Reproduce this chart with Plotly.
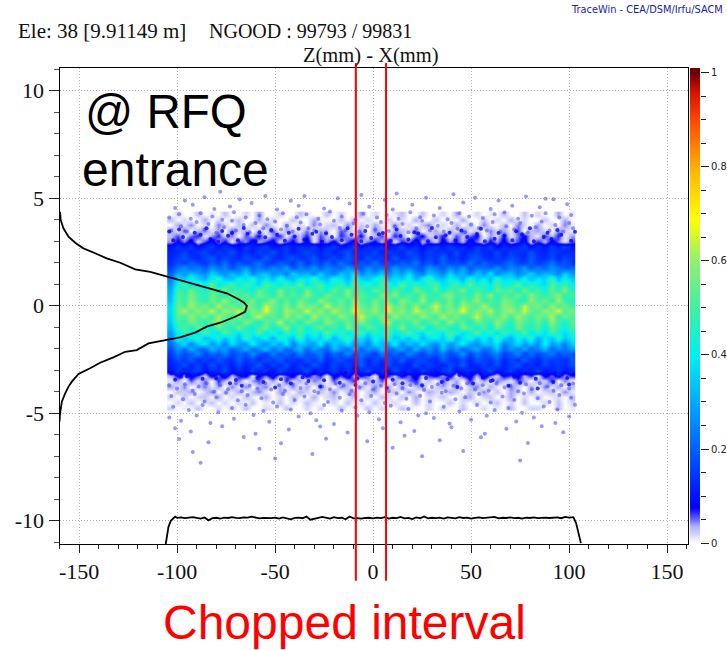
import plotly.graph_objects as go

W, H = 727, 650

# density grid, hundredths of the colour scale (top row first)
density_y = [4.25,4.0,3.75,3.5,3.25,3.0,2.75,2.5,2.25,2.0,1.75,1.5,1.25,1.0,0.75,0.5,0.25,0.0,-0.25,
             -0.5,-0.75,-1.0,-1.25,-1.5,-1.75,-2.0,-2.25,-2.5,-2.75,-3.0,-3.25,-3.5,-3.75,-4.0,-4.25,-4.5,-4.75]
# brightness correction per row, estimated against the picture
row_gain = [1,1,1,1,1,1,1,1,1,1,1.05,1.12,1.15,1.15,1.1,1.05,1,1,1,
            1,1.03,1.08,1.1,1.12,1.15,1.12,1.05,1,1,1,1,1,1,1,1,1,1]
density = [
 [0,2,0,0,3,0,1,0,3,0, 0,2,0,4,0,0,2,0,0,3, 1,0,0,3,0,2,0,0,4,0, 2,0,0,1,3,0,0,3,0,0, 2,0,4,0,0,2,0,1,0,3, 0,0,3,0,2,0,0,4,0,1],
 [3,0,2,0,0,4,0,2,0,1, 3,0,0,4,0,2,0,0,3,0, 0,4,1,0,0,3,0,4,0,2, 0,0,3,0,2,0,4,0,0,3, 0,1,0,4,0,0,3,0,2,0, 4,0,2,0,0,3,0,0,4,0],
 [0,4,1,5,0,2,0,5,2,0, 3,0,3,0,5,1,0,4,0,2, 0,5,0,2,3,0,5,0,3,0, 4,1,0,5,0,2,0,3,5,0, 2,0,4,0,3,0,5,1,0,3, 0,5,2,0,4,0,2,0,5,1],
 [4,1,6,0,3,5,1,4,0,6, 2,4,0,3,1,6,0,4,2,1, 5,0,4,2,0,6,3,1,4,0, 5,2,0,4,3,1,6,0,2,4, 0,4,1,6,1,3,0,5,2,4, 1,6,0,3,4,2,0,5,2,1],
 [3,6,1,5,7,1,4,7,2,5, 0,6,3,8,1,4,7,1,5,3, 7,1,6,3,0,7,4,2,8,1, 3,6,1,7,4,0,5,8,2,3, 7,1,6,3,5,8,0,4,2,7, 1,5,8,3,1,6,3,7,1,4],
 [4,8,5,9,2,6,10,3,8,1, 7,4,10,3,6,9,2,5,8,3, 10,1,7,4,9,2,6,10,2,5, 8,3,9,1,7,5,10,3,6,2, 9,4,7,3,10,5,2,8,4,9, 3,6,10,2,7,3,9,5,1,6],
 [10,14,11,15,9,13,16,10,14,12, 8,15,11,13,16,9,12,15,10,14, 11,16,8,13,15,10,12,16,9,14, 11,15,9,13,16,10,14,8,12,15, 10,16,11,13,9,15,12,16,8,14, 11,13,16,9,14,10,15,12,16,10],
 [11,13,16,12,14,17,11,15,13,18, 12,14,11,16,13,18,12,15,11,14, 17,13,12,16,11,15,18,12,14,13, 17,11,15,13,12,18,14,11,16,13, 15,12,18,11,14,16,13,12,17,11, 15,14,12,18,13,11,16,14,12,13],
 [12,15,18,14,12,16,19,13,17,14, 12,18,15,13,20,14,12,16,18,13, 15,19,12,14,17,13,20,15,12,18, 14,16,12,19,13,15,18,12,16,14, 20,13,15,12,17,19,14,12,16,13, 18,15,12,20,14,13,17,12,16,14],
 [13,18,15,21,17,14,20,16,22,15, 19,14,18,23,16,14,20,17,15,22, 14,19,16,21,15,23,17,14,19,16, 22,15,18,14,20,17,23,15,19,14, 21,16,18,14,23,15,20,17,14,19, 22,16,15,20,14,18,23,16,19,14],
 [15,21,25,19,23,18,26,20,24,17, 22,27,19,23,18,25,21,28,17,23, 20,26,18,24,21,19,27,22,17,25, 20,23,18,27,21,24,19,17,26,22, 18,25,20,28,17,23,21,19,26,18, 24,21,27,18,23,19,25,22,17,20],
 [18,28,24,31,26,22,33,27,23,30, 25,34,22,28,31,24,27,21,33,26, 29,23,32,25,22,30,27,35,23,28, 25,32,22,29,26,34,24,21,31,27, 23,33,26,29,22,31,25,35,23,28, 30,22,26,33,24,29,27,22,32,25],
 [21,33,29,38,31,27,36,40,30,28, 37,32,41,29,35,28,39,31,27,36, 33,42,30,28,38,34,27,40,32,29, 36,41,28,33,30,38,27,35,42,31, 29,37,33,27,40,30,36,28,41,32, 34,29,39,27,35,31,42,28,37,30],
 [24,38,44,34,41,36,47,33,39,45, 35,42,37,32,46,39,34,43,36,48, 33,40,45,35,38,42,32,47,37,41, 34,44,39,33,48,36,42,35,40,46, 32,38,44,34,47,37,41,33,45,36, 39,48,34,42,36,32,46,38,43,35],
 [27,45,40,50,43,38,48,42,52,39, 46,41,37,49,44,39,52,42,47,38, 51,41,45,37,49,43,53,40,46,38, 50,44,39,48,42,37,52,45,40,49, 38,47,43,52,39,46,41,37,50,44, 48,38,51,42,45,39,49,41,53,40],
 [30,50,45,55,48,43,53,47,41,56, 46,51,43,54,48,42,56,45,50,44, 57,47,42,53,48,45,55,43,51,46, 41,54,48,56,44,49,43,54,47,42, 52,56,45,48,43,54,47,57,42,50, 46,53,44,56,48,43,51,55,45,48],
 [33,53,48,59,51,46,56,50,62,47, 54,48,58,45,52,60,47,55,46,57, 50,45,61,53,48,56,47,60,51,46, 57,49,54,44,59,52,47,63,46,53, 48,57,45,56,50,60,47,52,46,58, 54,48,44,60,51,56,47,61,49,45],
 [36,55,50,62,53,58,48,64,52,56, 49,61,54,48,65,55,50,59,47,62, 53,57,49,66,51,56,48,62,55,50, 60,48,64,53,57,49,61,47,54,66, 51,58,48,62,55,50,63,52,48,59, 56,49,65,53,58,48,61,51,55,49],
 [37,56,63,52,60,54,66,50,61,56, 65,51,58,53,68,55,49,62,57,52, 66,54,60,50,64,56,52,67,58,53, 61,49,65,55,60,51,66,57,53,63, 50,60,54,69,52,59,56,64,49,58, 62,53,66,55,51,61,57,67,52,56],
 [36,54,49,60,52,57,47,63,53,50, 59,46,56,65,51,54,48,61,52,58, 45,64,52,55,49,60,53,47,66,54, 50,57,46,62,52,56,49,61,54,48, 64,51,58,47,53,66,50,55,52,60, 48,62,54,49,57,52,63,47,55,51],
 [33,50,45,56,49,43,54,60,46,52, 44,57,50,42,53,48,62,45,52,41, 56,49,44,59,51,46,54,43,58,48, 42,53,61,45,50,47,56,43,49,55, 44,60,48,52,42,54,49,45,58,50, 43,56,51,46,53,44,59,47,42,52],
 [29,43,48,40,52,44,38,50,46,41, 53,42,37,47,51,39,45,55,40,49, 36,44,52,41,47,38,54,43,40,50, 46,37,48,42,55,39,45,51,36,44, 49,41,38,53,46,40,47,37,51,43, 39,52,45,41,48,37,50,44,38,46],
 [26,36,44,39,33,46,38,35,48,40, 34,43,37,49,35,42,33,45,38,47, 36,41,34,50,37,44,35,39,47,33, 42,38,46,34,40,48,36,33,44,39, 35,47,41,34,38,49,36,43,33,45, 37,40,48,35,42,34,46,38,33,41],
 [23,39,31,36,42,29,34,40,30,37, 28,43,33,31,38,27,41,35,30,44, 29,36,32,40,28,37,43,31,34,27, 39,33,42,29,36,30,41,28,35,38, 31,44,27,34,40,30,37,29,43,32, 28,38,33,41,27,35,30,42,31,36],
 [19,27,33,22,30,36,24,29,21,34, 26,23,37,28,22,32,25,35,21,30, 27,24,36,22,31,26,34,23,29,21, 33,28,25,37,22,30,24,35,27,21, 32,23,29,36,25,22,31,28,34,21, 26,33,23,30,22,37,25,28,21,31],
 [16,25,19,28,21,18,30,23,26,18, 22,29,19,24,31,20,27,18,23,29, 19,26,21,18,30,24,20,28,18,25, 22,31,19,23,27,18,29,21,25,19, 30,20,26,18,24,28,19,22,31,18, 25,21,27,19,23,29,18,24,20,26],
 [14,22,16,19,25,15,21,17,24,15, 20,16,26,18,14,23,17,21,15,25, 16,19,23,14,20,17,26,15,22,18, 14,24,16,20,15,25,18,14,21,17, 23,15,19,26,14,22,16,20,24,15, 18,25,14,21,16,19,23,15,20,17],
 [12,18,14,20,13,16,12,19,15,13, 21,14,17,12,18,15,20,13,16,12, 19,14,21,12,16,18,13,15,20,12, 17,14,19,13,21,12,16,18,14,12, 20,15,13,18,12,19,16,14,21,12, 17,13,20,15,12,18,14,16,12,19],
 [11,14,18,12,16,11,19,13,15,11, 17,12,14,20,11,16,13,18,11,15, 12,19,14,11,17,13,16,11,20,12, 15,11,18,13,14,11,19,12,16,13, 11,17,14,20,11,13,16,12,18,11, 15,19,12,14,11,17,13,15,12,18],
 [9,15,11,13,17,9,14,12,18,10, 13,9,16,11,15,9,17,12,10,14, 18,9,13,11,16,10,15,9,12,17, 10,14,9,18,11,13,9,16,12,10, 15,17,9,11,14,9,13,18,10,12, 16,9,14,11,17,9,12,15,10,13],
 [3,8,4,9,6,2,9,5,10,3, 7,9,1,8,5,10,3,6,9,2, 9,4,7,1,9,6,10,3,8,5, 1,9,7,3,9,5,10,2,6,8, 4,9,1,7,9,3,10,5,2,8, 6,9,3,7,1,9,5,10,4,7],
 [1,4,0,6,2,5,0,7,3,1, 5,0,4,6,1,4,0,7,2,4, 0,5,3,0,6,1,4,7,0,4, 2,6,0,4,1,5,7,1,3,0, 6,2,4,0,7,1,4,0,5,3, 1,6,4,0,4,2,7,0,5,1],
 [4,1,5,0,2,5,1,4,0,5, 1,5,0,3,5,0,4,1,5,0, 4,0,5,2,0,5,3,0,4,1, 5,1,4,0,5,0,3,5,0,2, 4,1,5,0,3,5,0,4,1,0, 5,2,0,4,0,5,1,4,0,3],
 [0,3,2,4,0,2,5,0,3,1, 4,0,3,5,1,0,4,2,0,4, 2,0,3,1,5,0,3,4,0,2, 4,0,2,3,0,5,1,0,4,2, 0,4,2,0,3,1,5,0,3,0, 4,2,0,4,0,2,3,0,5,1],
 [2,0,3,0,2,3,0,4,0,2, 0,3,1,0,4,0,2,0,3,1, 0,4,0,2,3,0,1,4,0,2, 0,3,2,0,3,0,4,0,2,1, 3,0,0,2,4,0,2,3,0,1, 4,0,2,0,3,0,1,2,0,3],
 [0,2,0,3,0,1,3,0,2,0, 2,0,3,0,1,0,3,0,2,0, 3,1,0,0,2,0,3,0,2,0, 3,0,1,2,0,0,3,0,2,0, 0,3,0,2,0,2,0,1,3,0, 2,0,3,0,0,2,0,3,0,2],
 [2,0,1,0,3,0,0,2,0,2, 0,3,0,0,2,1,0,3,0,0, 2,0,2,0,0,3,0,1,0,3, 0,2,0,0,3,1,0,0,2,0, 2,0,0,3,0,0,2,0,1,0, 3,0,0,2,2,0,0,3,0,1],
]

# sparse outlying particles
upper_x = [-103,-98,-95,-90,-86,-84,-80,-76,-72,-70,-66,-63,-60,-56,-52,-50,-47,-44,-41,-37,-33,-30,-27,-24,-20,-17,-14,-10,-7,-3,1,4,8,11,15,18,22,25,29,33,36,40,43,47,50,54,58,61,65,68,72,75,79,83,86,90,93,97,100,102,
           -104,-99,-93,-88,-82,-77,-71,-65,-58,-54,-46,-39,-34,-28,-22,-16,-9,-5,2,7,13,19,24,31,38,44,49,56,62,67,74,81,88,95,101,
           -101,-92,-81,-73,-62,-49,-38,-25,-12,-2,10,20,34,46,60,71,85,99,
           -96,-86,-68,-55,-42,-18,-6,6,27,41,64,78,92,-78,-35,12,52,88]
upper_y = [3.5,3.7,3.45,3.9,3.55,3.8,3.4,3.65,3.95,3.5,3.75,3.42,3.85,3.6,3.48,3.92,3.55,3.72,3.45,3.88,3.6,3.5,3.78,3.42,3.95,3.62,3.5,3.82,3.45,3.7,3.55,3.9,3.48,3.68,3.8,3.42,3.6,3.95,3.5,3.72,3.45,3.85,3.58,3.42,3.78,3.62,3.5,3.9,3.45,3.7,3.55,3.85,3.42,3.65,3.92,3.5,3.75,3.45,3.85,3.6,
           4.1,4.25,4.05,4.3,4.15,4.0,4.35,4.1,4.2,4.02,4.3,4.12,4.25,4.05,4.38,4.15,4.0,4.28,4.1,4.22,4.05,4.35,4.12,4.2,4.02,4.3,4.15,4.08,4.25,4.35,4.05,4.18,4.3,4.1,4.22,
           4.55,4.7,4.5,4.62,4.78,4.48,4.65,4.52,4.75,4.6,4.48,4.7,4.55,4.8,4.5,4.65,4.58,4.72,
           4.9,5.05,4.95,5.1,4.88,5.0,5.15,4.92,5.02,5.18,4.9,5.08,4.95,5.3,5.1,5.22,5.02,4.98]
lower_x = [-104,-100,-96,-92,-89,-85,-81,-78,-74,-70,-67,-63,-59,-55,-52,-48,-45,-41,-37,-34,-30,-26,-22,-19,-15,-11,-7,-4,0,4,8,11,15,19,22,26,30,33,37,41,45,48,52,56,59,63,67,70,74,78,81,85,89,92,96,100,102,
           -103,-97,-91,-86,-80,-75,-69,-64,-57,-51,-46,-40,-35,-28,-23,-17,-12,-6,-1,6,12,17,24,29,35,42,47,54,60,66,72,77,84,90,95,101,
           -102,-94,-87,-79,-72,-65,-56,-49,-42,-32,-25,-16,-9,-2,9,18,27,36,44,53,62,69,76,87,94,103,
           -104,-98,-90,-83,-71,-61,-53,-38,-29,-20,-8,3,14,23,31,39,50,58,73,82,93,100,
           -101,-93,-77,-60,-43,-27,-13,5,21,40,57,68,86,97,
           -99,-84,-66,-47,-24,-3,16,34,55,79,-92,-58,-31,10,46,-88,-50,25,75]
lower_y = [-3.7,-3.85,-3.65,-3.95,-3.75,-3.6,-4.0,-3.7,-3.88,-3.62,-3.98,-3.72,-3.85,-3.6,-3.9,-3.7,-3.95,-3.65,-3.82,-3.6,-3.98,-3.75,-3.88,-3.62,-3.7,-3.95,-3.8,-3.6,-3.9,-3.72,-3.98,-3.65,-3.85,-3.7,-3.6,-3.92,-3.78,-3.65,-3.98,-3.72,-3.85,-3.6,-3.9,-3.7,-3.95,-3.62,-3.8,-3.72,-3.98,-3.65,-3.88,-3.6,-3.75,-3.95,-3.7,-3.85,-3.62,
           -4.2,-4.35,-4.1,-4.45,-4.25,-4.05,-4.4,-4.15,-4.3,-4.5,-4.1,-4.38,-4.22,-4.05,-4.48,-4.28,-4.12,-4.4,-4.2,-4.52,-4.08,-4.32,-4.18,-4.45,-4.05,-4.35,-4.25,-4.1,-4.5,-4.22,-4.38,-4.08,-4.3,-4.48,-4.15,-4.28,
           -4.7,-4.85,-4.62,-4.95,-4.75,-4.6,-4.9,-4.68,-4.82,-5.0,-4.62,-4.88,-4.72,-4.95,-4.65,-4.8,-5.0,-4.7,-4.92,-4.62,-4.85,-4.75,-4.98,-4.68,-4.82,-4.6,
           -5.2,-5.35,-5.1,-5.45,-5.25,-5.08,-5.4,-5.15,-5.32,-5.5,-5.12,-5.28,-5.42,-5.1,-5.22,-5.48,-5.3,-5.12,-5.38,-5.2,-5.45,-5.15,
           -5.7,-5.85,-5.6,-5.95,-5.75,-5.62,-5.9,-5.7,-5.82,-5.65,-5.95,-5.72,-5.6,-5.88,
           -6.2,-6.35,-6.1,-6.4,-6.18,-6.3,-6.05,-6.25,-6.12,-6.38,-6.8,-6.65,-6.9,-6.6,-6.75,-7.3,-7.1,-7.0,-7.2]
# denser blue particles just outside the bright band
edge_x = [-102,-97,-93,-88,-83,-79,-74,-69,-64,-60,-55,-49,-45,-40,-35,-31,-26,-21,-16,-11,-6,-1,3,9,14,18,23,28,32,37,42,48,53,57,62,67,71,76,82,87,91,96,101,
          -104,-99,-91,-85,-77,-72,-66,-58,-52,-43,-38,-29,-24,-13,-4,5,12,21,30,39,45,55,64,73,80,89,94,103,
          -103,-98,-94,-87,-82,-76,-70,-65,-59,-53,-47,-41,-36,-30,-25,-19,-14,-8,-2,4,10,16,22,27,33,38,44,50,56,61,66,72,78,83,88,93,99,102,
          -101,-95,-89,-80,-73,-67,-56,-50,-42,-33,-27,-17,-9,0,7,15,25,35,43,51,60,69,75,84,92,100]
edge_y = [3.05,3.2,3.0,3.3,3.1,2.98,3.25,3.05,3.35,3.0,3.18,3.3,3.02,3.22,3.08,3.35,2.98,3.2,3.05,3.3,3.0,3.15,3.32,3.02,3.24,3.08,3.36,3.0,3.18,3.28,3.04,3.2,3.34,3.0,3.12,3.26,3.05,3.32,3.0,3.2,3.1,3.3,3.02,
          3.45,3.55,3.4,3.6,3.48,3.38,3.62,3.42,3.52,3.4,3.58,3.44,3.36,3.6,3.48,3.38,3.55,3.42,3.62,3.4,3.5,3.58,3.38,3.46,3.6,3.4,3.52,3.44,
          -3.15,-3.3,-3.2,-3.4,-3.12,-3.28,-3.45,-3.18,-3.35,-3.1,-3.42,-3.22,-3.32,-3.14,-3.46,-3.25,-3.12,-3.38,-3.2,-3.3,-3.44,-3.1,-3.28,-3.36,-3.16,-3.42,-3.22,-3.12,-3.34,-3.46,-3.2,-3.3,-3.14,-3.4,-3.24,-3.12,-3.36,-3.2,-3.44,-3.28,-3.16,-3.38,
          -3.6,-3.72,-3.55,-3.8,-3.62,-3.5,-3.75,-3.58,-3.68,-3.52,-3.82,-3.6,-3.7,-3.55,-3.78,-3.62,-3.5,-3.72,-3.58,-3.85,-3.55,-3.66,-3.76,-3.52,-3.7,-3.6]

# black projection along the vertical axis
side_x = [-159.7,-159.4,-158,-155.4,-152,-147.8,-141.8,-135.9,-129,-121.4,-113.7,-105.3,-96.8,-88.2,-81.5,-74.6,-68.7,-65.8,-64.4,-65.3,-70.4,-78,-84.9,-90.8,-98.5,-105.3,-114.6,-120.6,-126.5,-132.5,-139.3,-144.4,-150.3,-153.7,-155.4,-157.1,-158.8,-159.7,-160]
side_y = [4.37,3.99,3.6,3.21,2.93,2.67,2.44,2.2,2.0,1.69,1.58,1.38,1.15,0.92,0.76,0.58,0.3,0.14,-0.01,-0.28,-0.51,-0.79,-0.97,-1.25,-1.47,-1.59,-1.75,-2.06,-2.14,-2.4,-2.65,-2.91,-3.17,-3.53,-3.76,-4.07,-4.46,-5.0,-5.39]

# black projection along the horizontal axis
bottom_x = [-105.8,-104.4,-103.2,-101] + list(range(-100, 102, 2)) + [102.2,103.6,104.8,106]
bottom_y = [-11.08,-10.28,-10,-9.81,
 -9.86,-9.84,-9.88,-9.85,-9.83,-9.87,-9.9,-9.85,-9.98,-9.88,-9.86,-9.9,-9.85,-9.87,-9.83,-9.86,-9.88,-9.84,-9.85,-9.81,-9.86,-9.89,-9.87,-9.88,-9.88,-9.85,-9.9,-9.84,-9.88,-9.93,-9.87,-9.85,-9.88,-9.8,-9.95,-9.92,-9.86,-9.82,-9.87,-9.9,-9.83,-9.88,-9.86,-9.93,-9.8,-9.89,-9.88,-9.9,-9.87,-9.86,-9.89,-9.85,-9.88,-9.83,-9.9,-9.86,-9.88,-9.82,-9.89,-9.87,-9.92,-9.84,-9.88,-9.8,-9.89,-9.86,-9.88,-9.85,-9.9,-9.84,-9.86,-9.89,-9.83,-9.87,-9.85,-9.9,-9.86,-9.84,-9.88,-9.87,-9.85,-9.82,-9.89,-9.86,-9.87,-9.84,-9.88,-9.86,-9.9,-9.85,-9.87,-9.84,-9.88,-9.86,-9.85,-9.87,-9.86,-9.84,-9.88,-9.82,-9.85,
 -9.83,-10.12,-10.59,-11.04]

chop_edges = [-8.8, 6.6]

x_ticks = [-150,-100,-50,0,50,100,150]
x_labels = ["-150","-100","-50","0","50","100","150"]
y_ticks = [-10,-5,0,5,10]
y_labels = ["-10","-5","0","5","10"]
bar_ticks = [0,0.2,0.4,0.6,0.8,1]
bar_labels = ["0","0.2","0.4","0.6","0.8","1"]
bar_levels = [i/100 for i in range(0,102)]

jet = [[0,"#ffffff"],[0.035,"#b4b4ff"],[0.075,"#0000ff"],[0.2,"#0060ff"],[0.33,"#00c0ff"],[0.4,"#00f0f0"],
       [0.5,"#40f0a0"],[0.6,"#90f070"],[0.69,"#ffff00"],[0.8,"#ffb000"],[0.9,"#ff4800"],[0.96,"#d81000"],[1,"#700000"]]

fig = go.Figure()
fig.add_trace(go.Heatmap(z=[[v*g/100 for v in row] for row, g in zip(density, row_gain)], x0=-103.3, dx=3.47, y=density_y,
    colorscale=jet, zmin=0, zmax=1, zsmooth="best", showscale=False))
fig.add_trace(go.Scatter(x=upper_x+lower_x, y=upper_y+lower_y, mode="markers",
    marker=dict(size=4, color="rgba(50,50,255,0.5)", line=dict(width=0)), showlegend=False))
fig.add_trace(go.Scatter(x=edge_x, y=edge_y, mode="markers",
    marker=dict(size=4, color="rgba(0,0,255,0.8)", line=dict(width=0)), showlegend=False))
fig.add_trace(go.Scatter(x=side_x, y=side_y, mode="lines", line=dict(color="black", width=1.8), showlegend=False))
fig.add_trace(go.Scatter(x=bottom_x, y=bottom_y, mode="lines", line=dict(color="black", width=1.8), showlegend=False))
fig.add_trace(go.Heatmap(z=[[v] for v in bar_levels], x=[0], y=bar_levels, colorscale=jet, zmin=0, zmax=1,
    zsmooth="best", showscale=False, xaxis="x2", yaxis="y2"))

serif = "Liberation Serif"
sans = "Liberation Sans"
axis_common = dict(showline=True, linecolor="black", linewidth=1, mirror=True, zeroline=False,
    showgrid=True, gridcolor="#b4b4b4", griddash="1px,2px", gridwidth=1, ticks="outside", tickcolor="#222222",
    tickfont=dict(family=serif, size=22, color="#111111"), tickmode="array")
fig.update_layout(
    width=W, height=H, margin=dict(l=0,r=0,t=0,b=0,autoexpand=False), paper_bgcolor="white", plot_bgcolor="white", showlegend=False,
    xaxis=dict(axis_common, domain=[59.5/W, 687.7/W], range=[-160,160.5], tickvals=x_ticks, ticktext=x_labels, ticklen=8,
               minor=dict(dtick=10, tick0=0, ticks="outside", ticklen=4, tickcolor="#222222", showgrid=False)),
    yaxis=dict(axis_common, domain=[(H-544)/H, (H-67.5)/H], range=[-11.08,11.08], tickvals=y_ticks, ticktext=y_labels, ticklen=10,
               minor=dict(dtick=1, tick0=0, ticks="outside", ticklen=5, tickcolor="#555555", showgrid=False)),
    xaxis2=dict(domain=[690/W,700/W], showticklabels=False, ticks="", showgrid=False, zeroline=False, anchor="y2"),
    yaxis2=dict(domain=[(H-543)/H,(H-68)/H], range=[0,1.0106], side="right", anchor="x2", showgrid=False, zeroline=False,
                tickmode="array", tickvals=bar_ticks, ticktext=bar_labels, ticks="outside", ticklen=8, tickcolor="#222222",
                tickfont=dict(family="DejaVu Sans", size=10, color="#222222"),
                minor=dict(dtick=0.05, tick0=0, ticks="outside", ticklen=5, tickcolor="#222222", showgrid=False)),
    shapes=[dict(type="line", xref="x", yref="paper", x0=e, x1=e, y0=(H-580.7)/H, y1=(H-63)/H, line=dict(color="#ff0000", width=2))
            for e in chop_edges],
    annotations=[
        dict(text="Ele: 38 [9.91149 m]", xref="paper", yref="paper", x=16/W, y=1-31/H, xanchor="left", yanchor="middle", showarrow=False, font=dict(family=serif, size=21, color="#111111")),
        dict(text="NGOOD : 99793 / 99831", xref="paper", yref="paper", x=207/W, y=1-31/H, xanchor="left", yanchor="middle", showarrow=False, font=dict(family=serif, size=20, color="#111111")),
        dict(text="Z(mm) - X(mm)", xref="paper", yref="paper", x=371/W, y=1-56/H, xanchor="center", yanchor="middle", showarrow=False, font=dict(family=serif, size=20.5, color="#111111")),
        dict(text="TraceWin - CEA/DSM/Irfu/SACM", xref="paper", yref="paper", x=725/W, y=1-10/H, xanchor="right", yanchor="middle", showarrow=False, font=dict(family="DejaVu Sans", size=9.8, color="#1a1ab4")),
        dict(text="@ RFQ", xref="paper", yref="paper", x=83/W, y=1-112/H, xanchor="left", yanchor="middle", showarrow=False, font=dict(family=sans, size=47.5, color="black")),
        dict(text="entrance", xref="paper", yref="paper", x=80/W, y=1-170/H, xanchor="left", yanchor="middle", showarrow=False, font=dict(family=sans, size=48, color="black")),
        dict(text="Chopped interval", xref="paper", yref="paper", x=344/W, y=1-622/H, xanchor="center", yanchor="middle", showarrow=False, font=dict(family=sans, size=48, color="#ff0000")),
    ],
)
fig.write_html("out.html", config=dict(displayModeBar=False),
               post_script="document.body.style.margin='0';document.documentElement.style.overflow='hidden';")
